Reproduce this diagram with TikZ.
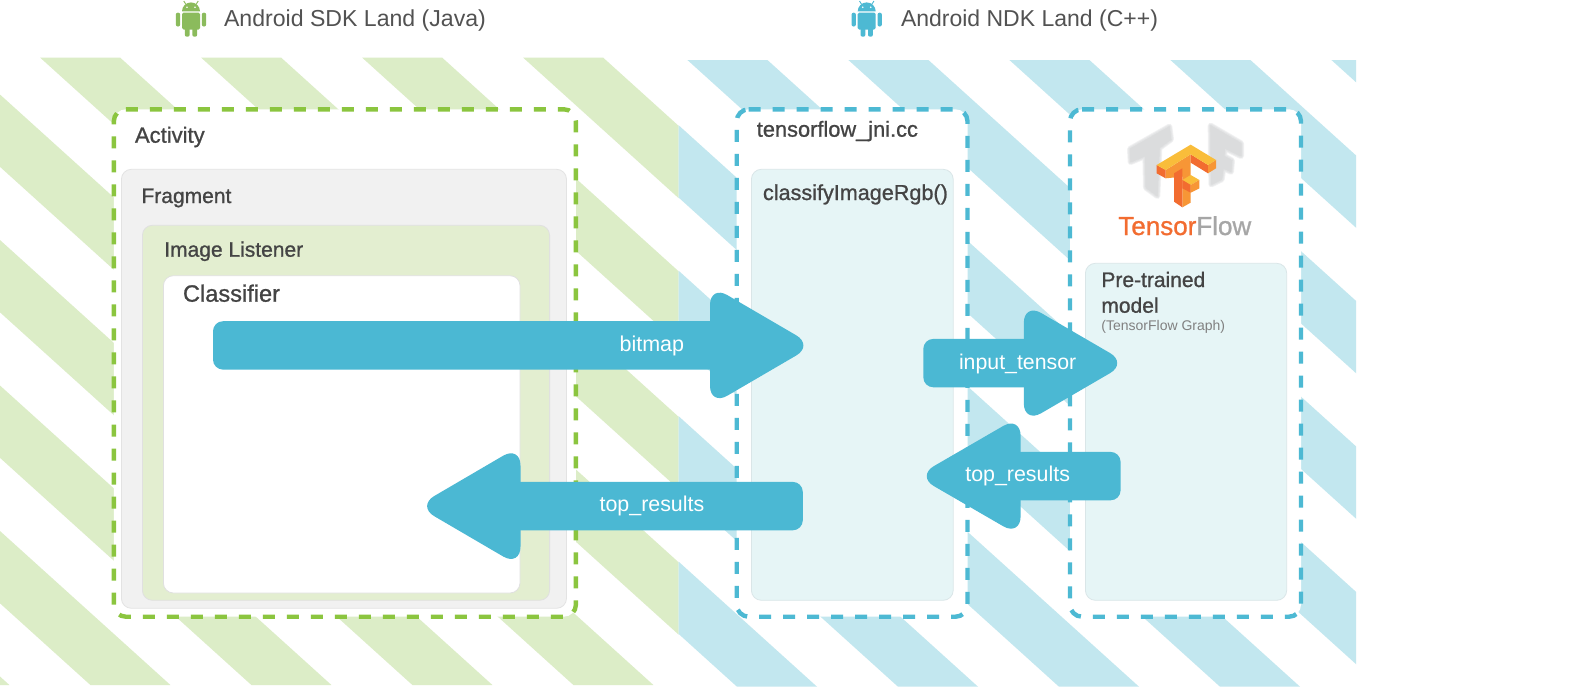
\documentclass[tikz,border=0pt]{standalone}
\usepackage{fontspec}
\setmainfont{Liberation Sans}
\newfontfamily\medf[FakeBold=1.0]{Liberation Sans}
\definecolor{gstripe}{HTML}{DCEDC7}
\definecolor{bstripe}{HTML}{C2E7EF}
\definecolor{gdash}{HTML}{8BC53F}
\definecolor{bdash}{HTML}{4DB9D3}
\definecolor{arrowc}{HTML}{4BB8D3}
\definecolor{ink}{HTML}{444444}
\definecolor{androidg}{HTML}{8BBB5C}
\definecolor{tfdark}{HTML}{F26C30}
\definecolor{tfmid}{HTML}{F79636}
\definecolor{tfyel}{HTML}{F9BD3A}
\definecolor{tfgray}{HTML}{DBDCDD}
\definecolor{listenfill}{HTML}{E3EED0}
\definecolor{bluefill}{HTML}{E6F5F6}
\definecolor{blueedge}{HTML}{DAE6E8}
\newcommand{\fs}[1]{\fontsize{#1}{#1}\selectfont}
\tikzset{
  lab/.style={anchor=base west,inner sep=0pt,outer sep=0pt,text=ink},
  arrowlab/.style={anchor=base west,inner sep=0pt,outer sep=0pt,text=white},
  innerbox/.style={rectangle,rounded corners=10pt,inner sep=0pt,outer sep=0pt,line width=0.8pt,anchor=north west},
  frag/.style={innerbox,fill=black!5.5,draw=black!11},
  listen/.style={innerbox,fill=listenfill,draw=black!12},
  classif/.style={innerbox,fill=white,draw=black!12},
  bluebox/.style={innerbox,fill=bluefill,draw=blueedge},
  dashframe/.style={line width=4.4pt,dash pattern=on 12pt off 12pt}
}
% #1 name #2 x0 #3 y0 #4 x1 #5 y1 #6 style
\newcommand{\boxn}[6]{%
  \pgfmathsetmacro{\bw}{#4-#2}\pgfmathsetmacro{\bh}{#5-#3}%
  \node[#6,minimum width=\bw pt,minimum height=\bh pt] (#1) at (#2,#3) {};}
% white frame with dashed outline, clockwise from the top left
\newcommand{\frameb}[5]{%
  \fill[white,rounded corners=12pt] (#1,#2) rectangle (#3,#4);
  \draw[dashframe,draw=#5] ({#1+12},#2) -- ({#3-12},#2) arc[start angle=-90,end angle=0,radius=12]
    -- (#3,{#4-12}) arc[start angle=0,end angle=90,radius=12]
    -- ({#1+12},#4) arc[start angle=90,end angle=180,radius=12]
    -- (#1,{#2+12}) arc[start angle=180,end angle=270,radius=12];}
% #1 tail end, #2 head base, #3 sharp tip, #4 centre y, #5 half head
\newcommand{\blockarrow}[5]{%
  \fill[arrowc,rounded corners=10pt] (#1,{#4-24.2}) -- ({#2+(#3-#2)/4},{#4-24.2}) -- ({#2+(#3-#2)/4},{#4+24.2}) -- (#1,{#4+24.2}) -- cycle;
  \fill[arrowc,rounded corners=20pt] (#2,{#4-#5}) -- (#3,#4) -- (#2,{#4+#5}) -- cycle;}
% soft-edged grey letter of the logo
\newcommand{\softshape}[1]{%
  \foreach \lw in {6,4.5,3,1.5}{\filldraw[tfgray,opacity=0.35,line width=\lw pt,line join=round] #1;}
  \fill[tfgray] #1;}
% android robot, #1 centre x, #2 colour
\newcommand{\robot}[2]{%
  \begin{scope}[shift={(#1,0)}]
    \fill[#2,rounded corners=1.5pt] (-9,12.6) -- (9,12.6) -- (9,29.5) -- (-9,29.5) -- cycle;
    \fill[#2] (-9,11.4) arc[start angle=180,end angle=360,radius=9] -- cycle;
    \draw[#2,line width=0.9pt] (-5,4.5) -- (-7.2,1) (5,4.5) -- (7.2,1);
    \fill[white] (-4,7.3) circle[radius=0.9] (4,7.3) circle[radius=0.9];
    \fill[#2,rounded corners=2pt] (-15.2,12.7) rectangle (-10.8,26.5);
    \fill[#2,rounded corners=2pt] (10.8,12.7) rectangle (15.2,26.5);
    \fill[#2,rounded corners=2pt] (-6.2,26) rectangle (-1.3,36.7);
    \fill[#2,rounded corners=2pt] (1.3,26) rectangle (6.2,36.7);
  \end{scope}}
\begin{document}
\begin{tikzpicture}[x=1pt,y=-1pt]
\useasboundingbox (0,0) rectangle (1578,688);
\fill[white] (0,0) rectangle (1578,688);
% stripes
\begin{scope}
  \clip (0,57.5) rectangle (678.6,685);
  \foreach \k in {-5,...,4}{
    \fill[gstripe] ({-23.6+161*\k+63.6},57.5) -- ({56.4+161*\k+63.6},57.5) -- ({56.4+161*\k+758},685) -- ({-23.6+161*\k+758},685) -- cycle;
  }
\end{scope}
\begin{scope}
  \clip (678.6,60) rectangle (1356,686.7);
  \foreach \k in {-2,...,9}{
    \fill[bstripe] ({-23+161*\k+66.4},60) -- ({57+161*\k+66.4},60) -- ({57+161*\k+760},686.7) -- ({-23+161*\k+760},686.7) -- cycle;
  }
\end{scope}
% frames
\frameb{113.8}{109.3}{575.9}{616.7}{gdash}
\frameb{736.7}{109.3}{967.5}{616.7}{bdash}
\frameb{1070}{109.3}{1301}{616.7}{bdash}
% inner boxes
\boxn{fragment}{121.4}{169.3}{566.5}{608.3}{frag}
\boxn{listener}{142.4}{225.3}{549.6}{600.3}{listen}
\boxn{classifier}{163.4}{275.7}{520}{593}{classif}
\boxn{classify}{751.4}{169.3}{953.2}{600.3}{bluebox}
\boxn{model}{1085.4}{263.3}{1286.7}{600.3}{bluebox}
% header
\robot{191}{androidg}
\robot{866.7}{bdash}
\node[lab,text=black!68] (sdk) at (224,26) {\fs{23.1}Android SDK Land (Java)};
\node[lab,text=black!68] (ndk) at (901,26) {\fs{23}Android NDK Land (C++)};
% labels
\node[lab] (activityt) at (135,142.7) {\medf\fs{22}Activity};
\node[lab] (fragmentt) at (141.5,203) {\medf\fs{21}Fragment};
\node[lab] (listenert) at (164.3,256.7) {\medf\fs{21}Image Listener};
\node[lab] (classifiert) at (183,301.7) {\medf\fs{23.6}Classifier};
\node[lab] (jnit) at (756.8,136.7) {\medf\fs{21.8}tensorflow\_jni.cc};
\node[lab] (classifyt) at (763,200) {\medf\fs{21.6}classifyImageRgb()};
\node[lab] (pre) at (1101.4,287) {\medf\fs{21}Pre-trained};
\node[lab] (modelt) at (1101.4,312.7) {\medf\fs{21}model};
\node[lab,text=black!50] (graph) at (1101.4,330) {\fs{14}(TensorFlow Graph)};
% tensorflow logo, in crop coordinates
\begin{scope}[shift={(1120,120)},x=0.3333pt,y=-0.3333pt]
  \softshape{(30,87) -- (148,20) -- (153,58) -- (118,84) -- (112,228) -- (78,203) -- (76,108) -- (32,126) -- cycle}
  \softshape{(272,17) -- (363,70) -- (363,108) -- (315,85) -- (312,108) -- (336,122) -- (333,155) -- (310,145) -- (305,178) -- (274,193) -- cycle}
  \fill[tfmid] (137,150) -- (212,103) -- (212,248) -- (187,262) -- (187,170) -- (137,175) -- cycle;
  \fill[tfdark] (162,160) -- (187,145) -- (187,262) -- (162,245) -- cycle;
  \fill[tfdark] (110,135) -- (137,150) -- (137,175) -- (110,160) -- cycle;
  \fill[tfdark] (212,103) -- (264,135) -- (264,160) -- (212,128) -- cycle;
  \fill[tfmid] (264,135) -- (288,120) -- (288,145) -- (264,160) -- cycle;
  \fill[tfyel] (212,74) -- (288,120) -- (264,135) -- (212,103) -- (137,150) -- (110,135) -- cycle;
  \fill[tfyel] (187,180) -- (212,165) -- (238,180) -- (212,195) -- cycle;
  \fill[tfdark] (187,180) -- (212,195) -- (212,218) -- (187,205) -- cycle;
  \fill[tfmid] (212,195) -- (238,180) -- (238,205) -- (212,218) -- cycle;
\end{scope}
\node[lab,text=tfdark] (tflogo) at (1118.3,235) {\medf\fs{26}Tensor\textcolor{black!35}{Flow}};
% arrows
\blockarrow{213}{710}{813.5}{345.4}{60.4}
\blockarrow{802.8}{520.5}{417}{506.1}{60.5}
\blockarrow{923.3}{1023.8}{1127.3}{363.1}{60.2}
\blockarrow{1120.6}{1020.6}{916.6}{476.1}{60.2}
\node[arrowlab] (bitmap) at (619.6,351.7) {\fs{21.5}bitmap};
\node[arrowlab] (topa) at (599.6,511.7) {\fs{21.4}top\_results};
\node[arrowlab] (inputt) at (959,369.3) {\fs{21.3}input\_tensor};
\node[arrowlab] (topb) at (965.3,481.7) {\fs{21.4}top\_results};
\end{tikzpicture}
\end{document}
